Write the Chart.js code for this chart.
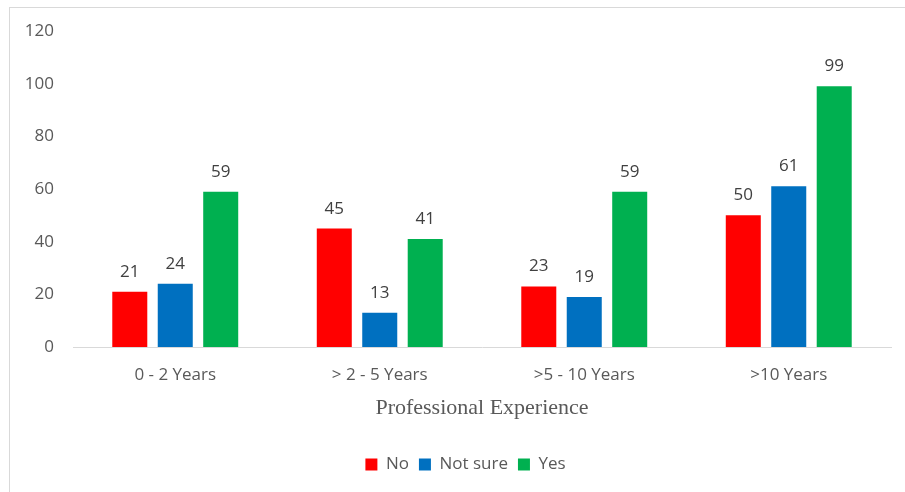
<!DOCTYPE html>
<html>
<head>
<meta charset="utf-8">
<script src="https://cdn.jsdelivr.net/npm/chart.js@4"></script>
<style>
  html, body { margin: 0; padding: 0; background: #fff; }
  #wrap { position: relative; width: 905px; height: 492px; }
  #frame { position: absolute; left: 9px; top: 7px; right: 0; bottom: 0;
           border-left: 1px solid #d9d9d9; border-top: 1px solid #d9d9d9; pointer-events: none; }
</style>
</head>
<body>
<div id="wrap">
  <canvas id="expChart" width="905" height="492"></canvas>
  <div id="frame"></div>
</div>
<script>
// Survey answers grouped by years of professional experience
const categories = ['0 - 2 Years', '> 2 - 5 Years', '>5 - 10 Years', '>10 Years'];
const noValues = [21, 45, 23, 50];
const notSureValues = [24, 13, 19, 61];
const yesValues = [59, 41, 59, 99];
const yTicks = [0, 20, 40, 60, 80, 100, 120];

const FONT = "'Open Sans', 'Liberation Sans', sans-serif";

// value printed above each bar
const barValues = {
  id: 'barValues',
  afterDatasetsDraw(chart) {
    const ctx = chart.ctx;
    ctx.save();
    ctx.font = '17px ' + FONT;
    ctx.fillStyle = '#404040';
    ctx.textAlign = 'center';
    ctx.textBaseline = 'alphabetic';
    chart.data.datasets.forEach((ds, i) => {
      chart.getDatasetMeta(i).data.forEach((bar, j) => {
        ctx.fillText(ds.data[j], bar.x, bar.y - 15);
      });
    });
    ctx.restore();
  }
};

// nudge the legend a bit right of the canvas center
const legendNudge = {
  id: 'legendNudge',
  afterLayout(chart) { chart.legend.left += 40; }
};

new Chart(document.getElementById('expChart'), {
  type: 'bar',
  data: {
    labels: categories,
    datasets: [
      { label: 'No', data: noValues, backgroundColor: '#FF0000' },
      { label: 'Not sure', data: notSureValues, backgroundColor: '#0070C0' },
      { label: 'Yes', data: yesValues, backgroundColor: '#00B050' }
    ]
  },
  options: {
    responsive: false,
    animation: false,
    categoryPercentage: 0.667,
    barPercentage: 0.77,
    layout: { padding: { top: 31, right: 14, bottom: 9, left: 0 } },
    plugins: {
      tooltip: { enabled: false },
      legend: {
        position: 'bottom',
        labels: { boxWidth: 12, boxHeight: 12, padding: 10, color: '#595959', font: { family: FONT, size: 17 } }
      }
    },
    scales: {
      x: {
        grid: { display: false, drawTicks: false },
        border: { display: true, color: '#d9d9d9', width: 1 },
        ticks: { color: '#595959', padding: 18, font: { family: FONT, size: 17 } },
        title: {
          display: true, text: 'Professional Experience', color: '#595959',
          font: { family: "'Liberation Serif', 'Times New Roman', serif", size: 22 },
          padding: { top: 0, bottom: 25 }
        },
        afterFit(s) { s.height = 99; }
      },
      y: {
        min: 0, max: 120,
        afterBuildTicks(s) { s.ticks = yTicks.map(v => ({ value: v })); },
        grid: { display: false, drawTicks: false },
        border: { display: false },
        ticks: { color: '#595959', padding: 19, font: { family: FONT, size: 17 } },
        afterFit(s) { s.width = 73; }
      }
    }
  },
  plugins: [barValues, legendNudge]
});
</script>
</body>
</html>
